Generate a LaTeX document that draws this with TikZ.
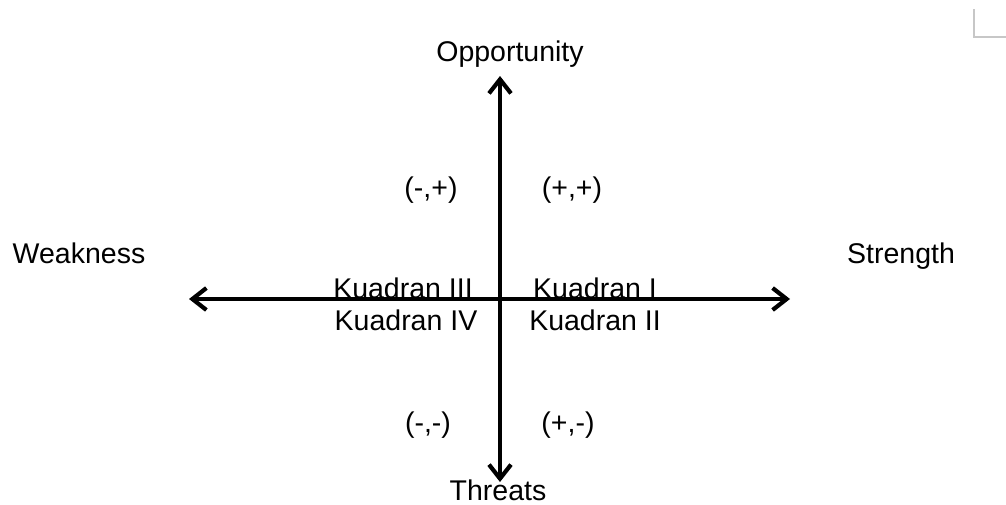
\documentclass[tikz,border=0pt]{standalone}
\usepackage{fontspec}
\setmainfont{Liberation Sans}
\usetikzlibrary{arrows.meta}
\tikzset{
  lbl/.style={anchor=base, inner sep=0pt, font=\fontsize{28.5}{34}\selectfont},
  tipbarb/.tip={Straight Barb[length=14pt,width=22pt,line width=4.2pt]},
  axis/.style={line width=3.6pt, tipbarb-tipbarb},
  cornermark/.style={line width=1.5pt, draw=black!22}
}
\begin{document}
\begin{tikzpicture}[x=1pt,y=-1pt]
\useasboundingbox (0,0) rectangle (1006,504);
% axes
\coordinate (L) at (189,299);
\coordinate (R) at (790,299);
\coordinate (T) at (500,76);
\coordinate (B) at (500,482);
\draw[axis] (L) -- (R);
\draw[axis] (B) -- (T);
% labels
\node[lbl] (opp) at (510,61) {Opportunity};
\node[lbl] (weak) at (79,263) {Weakness};
\node[lbl] (str) at (901,263) {Strength};
\node[lbl] (thr) at (498,500) {Threats};
\node[lbl] (mp) at (431,197) {(-,+)};
\node[lbl] (pp) at (572,197) {(+,+)};
\node[lbl] (mm) at (428,432) {(-,-)};
\node[lbl] (pm) at (568,432) {(+,-)};
\node[lbl] (k3) at (403,298) {Kuadran III};
\node[lbl] (k1) at (595,298) {Kuadran I};
\node[lbl] (k4) at (406,330) {Kuadran IV};
\node[lbl] (k2) at (595,330) {Kuadran II};
% corner mark
\coordinate (c1) at (974,9);
\coordinate (c2) at (974,37);
\coordinate (c3) at (1006,37);
\draw[cornermark] (c1) -- (c2) -- (c3);
\end{tikzpicture}
\end{document}
